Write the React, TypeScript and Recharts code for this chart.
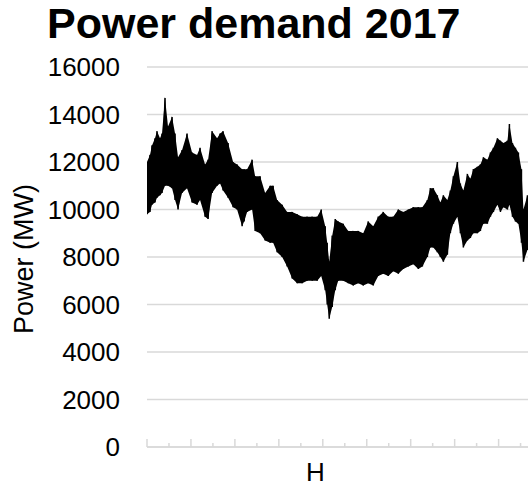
import { ComposedChart, Line, Area, XAxis, YAxis, CartesianGrid } from 'recharts';

// hour of the year for each reading, with the daily peak / trough
const hours = [
  0, 68, 114, 182, 228, 296, 342, 410, 478, 570, 638, 706, 797, 911, 1025, 1139, 1207, 1321, 1390,
  1481, 1595, 1663, 1731, 1845, 1959, 2050, 2164, 2210, 2278, 2392, 2460, 2574, 2688, 2802, 2870,
  2961, 3075, 3189, 3303, 3417, 3531, 3645, 3759, 3873, 3964, 4055, 4100, 4146, 4214, 4283, 4351,
  4465, 4579, 4693, 4807, 4920, 5034, 5148, 5262, 5376, 5490, 5604, 5718, 5832, 5946, 6060, 6173,
  6265, 6379, 6447, 6515, 6606, 6675, 6743, 6834, 6902, 6971, 7062, 7130, 7198, 7290, 7358, 7426,
  7517, 7586, 7654, 7745, 7814, 7882, 7973, 8041, 8110, 8201, 8246, 8315, 8383, 8451, 8520, 8565,
  8656,
];

const peakMW = [
  12000, 12300, 12700, 13000, 13300, 13000, 13200, 14700, 13500, 13900, 13200, 12200, 12500, 13200,
  12400, 12300, 12600, 11900, 12100, 13300, 13000, 13200, 13300, 12800, 12000, 11900, 11700, 11700,
  11700, 12100, 11400, 11400, 10700, 11000, 11000, 10400, 10200, 9900, 9900, 9800, 9700, 9700, 9700,
  9700, 10000, 9300, 8600, 7800, 8900, 9600, 9500, 9400, 9100, 9100, 9100, 9000, 9500, 9300, 9700,
  9900, 9700, 9700, 10000, 9900, 10000, 10100, 10100, 10100, 10400, 10900, 10900, 10600, 10300,
  10600, 10400, 10800, 11400, 12000, 11100, 10800, 11500, 11300, 11700, 11800, 11900, 12200, 12100,
  12400, 12600, 13000, 12900, 12800, 12900, 13600, 12800, 12600, 12400, 11700, 10000, 10600,
];

const troughMW = [
  9800, 9900, 10200, 10300, 10500, 10600, 10700, 11000, 11000, 10900, 10400, 10000, 10700, 10900,
  10300, 10200, 10400, 9700, 9600, 10700, 11000, 11100, 10800, 10500, 10100, 10000, 9300, 9500,
  9900, 10000, 9100, 9000, 8700, 8600, 8600, 8200, 8000, 7600, 7100, 6900, 6900, 7000, 7000, 7000,
  7200, 6600, 6000, 5400, 5900, 6600, 7000, 7000, 6900, 6800, 6900, 6800, 6900, 6800, 7200, 7300,
  7200, 7400, 7300, 7500, 7600, 7700, 7500, 7600, 8000, 8400, 8400, 8200, 8000, 7800, 8100, 9000,
  9400, 9700, 9000, 8400, 8700, 8800, 9000, 9000, 9100, 9400, 9400, 9700, 9900, 10200, 9900, 10100,
  10000, 10200, 9700, 9500, 9400, 8600, 7800, 8300,
];

const yTicks = [0, 2000, 4000, 6000, 8000, 10000, 12000, 14000, 16000];
const hourTicks = [0, 500, 1000, 1500, 2000, 2500, 3000, 3500, 4000, 4500, 5000, 5500, 6000, 6500, 7000, 7500, 8000, 8500];

// spiky trace: peak then trough at each reading
const series = hours.flatMap((hour, i) => [
  { hour, mw: peakMW[i] },
  { hour, mw: troughMW[i] },
]);

// solid band between trough and peak
const band = hours.map((hour, i) => ({ hour, range: [troughMW[i], peakMW[i]] }));

const FONT = '"Liberation Sans", Arial, Helvetica, sans-serif';
const GRID = '#d9d9d9';

function HourTick({ x, y, payload }: any) {
  const major = payload.value % 1000 === 0;
  return <line x1={x} x2={x} y1={y} y2={y - (major ? 8 : 4)} stroke={GRID} strokeWidth={1.5} />;
}

export default function App() {
  return (
    <div style={{ position: 'absolute', left: 0, top: 0, width: 528, height: 488, overflow: 'hidden', background: '#fff' }}>
      <div
        style={{
          position: 'absolute',
          left: 47,
          top: 2,
          fontFamily: FONT,
          fontWeight: 'bold',
          fontSize: 43,
          lineHeight: '43px',
          color: '#000',
          whiteSpace: 'nowrap',
        }}
      >
        Power demand 2017
      </div>
      <ComposedChart width={536} height={488} margin={{ top: 67, right: 4, bottom: 0, left: 0 }}>
        <CartesianGrid vertical={false} stroke={GRID} strokeWidth={1.5} />
        <XAxis
          type="number"
          dataKey="hour"
          domain={[0, 8760]}
          ticks={hourTicks}
          interval={0}
          tick={<HourTick />}
          tickLine={false}
          tickSize={0}
          tickMargin={0}
          axisLine={{ stroke: GRID, strokeWidth: 1.5 }}
          height={41}
          allowDataOverflow
          label={{ value: 'H', position: 'insideBottom', offset: 7, dx: -24, fill: '#000', fontSize: 26, fontFamily: FONT }}
        />
        <YAxis
          domain={[0, 16000]}
          ticks={yTicks}
          interval={0}
          width={147}
          axisLine={false}
          tickLine={false}
          tickSize={0}
          tickMargin={27}
          tick={{ fill: '#000', fontSize: 26, fontFamily: FONT }}
          label={{ value: 'Power (MW)', angle: -90, position: 'center', dx: -50, dy: 2, fill: '#000', fontSize: 27, fontFamily: FONT }}
        />
        <Area
          data={band}
          type="linear"
          dataKey="range"
          stroke="none"
          fill="#000"
          fillOpacity={1}
          isAnimationActive={false}
        />
        <Line
          data={series}
          type="linear"
          dataKey="mw"
          stroke="#000"
          strokeWidth={1.5}
          dot={false}
          isAnimationActive={false}
        />
      </ComposedChart>
    </div>
  );
}
